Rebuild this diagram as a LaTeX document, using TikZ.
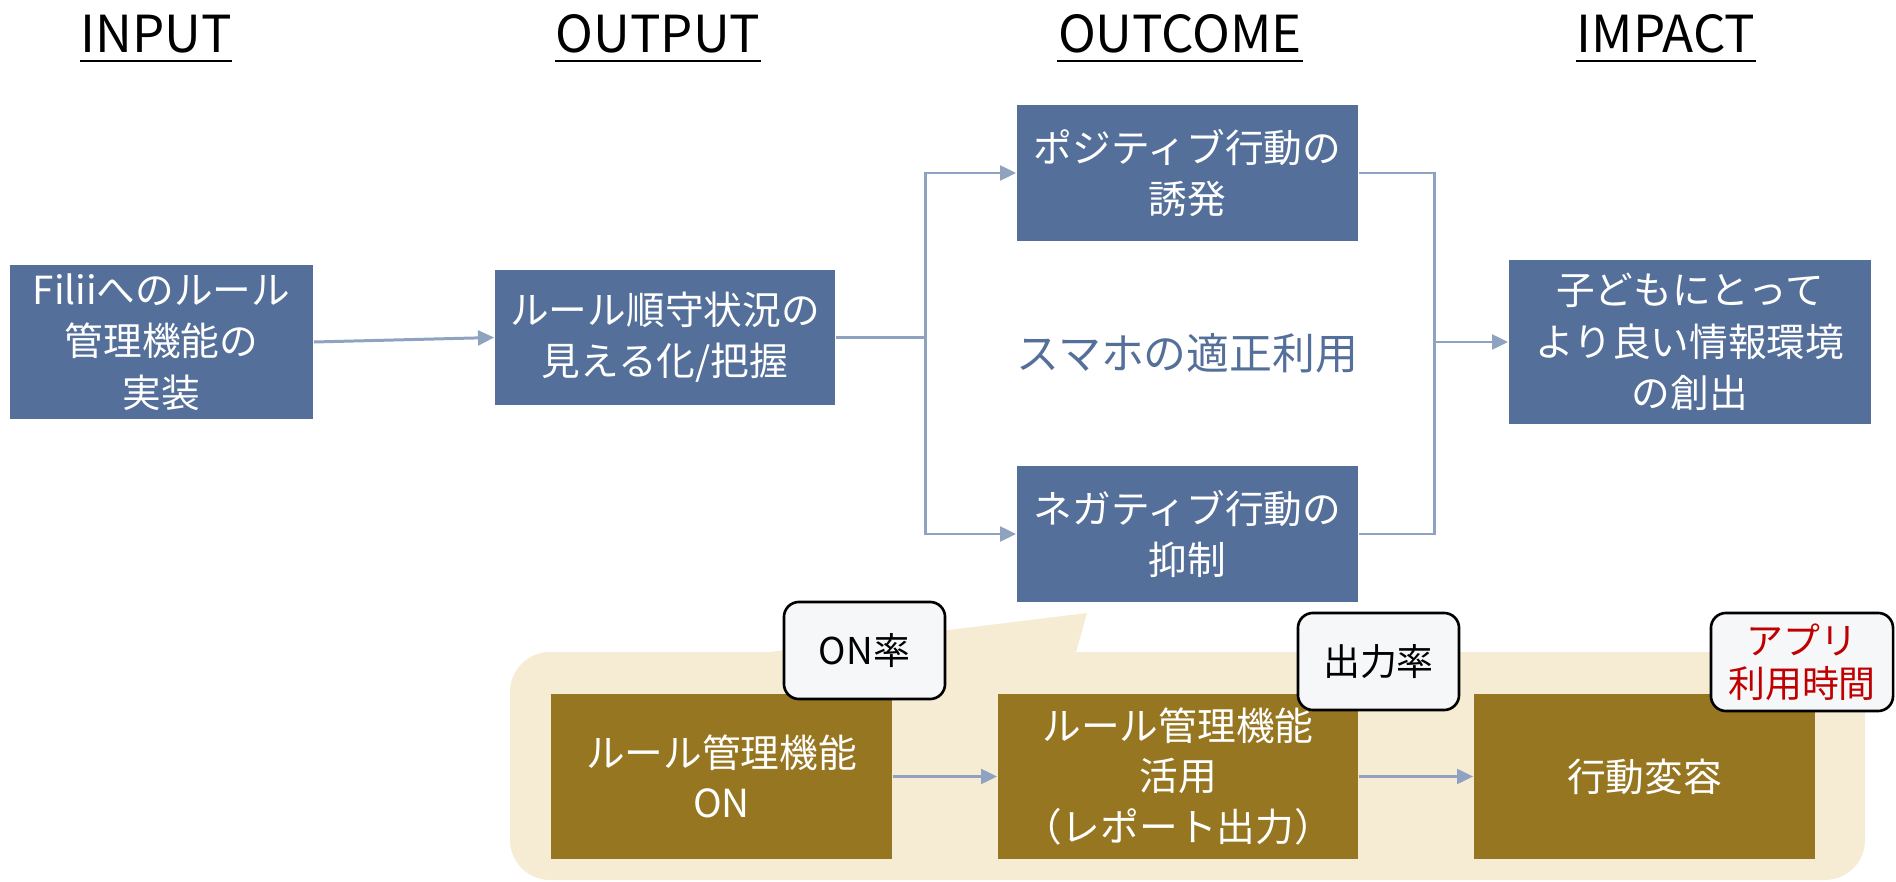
\documentclass[tikz,border=0pt]{standalone}
\usepackage{fontspec}
\setmainfont{Noto Sans CJK JP}
\usetikzlibrary{arrows.meta}
\definecolor{boxblue}{HTML}{546F99}
\definecolor{arrowc}{HTML}{8FA3C0}
\definecolor{beigec}{HTML}{F5ECD3}
\definecolor{brownc}{HTML}{977621}
\definecolor{labelc}{HTML}{F6F7F9}
\definecolor{redc}{HTML}{C00000}
\begin{document}
\begin{tikzpicture}[x=0.01cm,y=-0.01cm,
  bluebox/.style={fill=boxblue,text=white,inner sep=0pt,align=center,font=\fontsize{11}{14.6}\selectfont},
  brownbox/.style={fill=brownc,text=white,inner sep=0pt,align=center,font=\fontsize{11}{14.3}\selectfont},
  lbl/.style={fill=labelc,draw=black,line width=0.75pt,rounded corners=0.15cm,inner sep=0pt,align=center,font=\fontsize{10.5}{12.3}\selectfont},
  hdr/.style={inner sep=0pt,anchor=base,font=\fontsize{14.5}{16}\selectfont},
  uline/.style={line width=0.85pt},
  conn/.style={draw=arrowc,line width=0.85pt,-{Triangle[length=4.6pt,width=4.2pt]}},
  plain/.style={draw=arrowc,line width=0.85pt}]
\useasboundingbox (0,0) rectangle (1896,882);

% headers
\node[hdr] (h1) at (156,53) {INPUT};
\node[hdr] (h2) at (658,53) {OUTPUT};
\node[hdr] (h3) at (1180,53) {OUTCOME};
\node[hdr] (h4) at (1666,53) {IMPACT};
\foreach \h in {h1,h2,h3,h4}
  \draw[uline] ([yshift=-0.08cm]\h.base west) -- ([yshift=-0.08cm]\h.base east);

% main boxes
\node[bluebox,minimum width=3.03cm,minimum height=1.54cm] (in) at (161.5,342) {Filiiへのルール\\管理機能の\\実装};
\node[bluebox,minimum width=3.40cm,minimum height=1.35cm] (out) at (665,337.5) {ルール順守状況の\\見える化/把握};
\node[bluebox,minimum width=3.41cm,minimum height=1.36cm] (pos) at (1187.5,173) {ポジティブ行動の\\誘発};
\node[bluebox,minimum width=3.41cm,minimum height=1.36cm] (neg) at (1187.5,534) {ネガティブ行動の\\抑制};
\node[bluebox,minimum width=3.62cm,minimum height=1.64cm] (imp) at (1690,342) {子どもにとって\\より良い情報環境\\の創出};
\node[inner sep=0pt,text=boxblue,font=\fontsize{12.2}{14}\selectfont] (mid) at (1187.5,353) {スマホの適正利用};

% connectors
\draw[conn] (in.east) -- (out.west);
\coordinate (j1) at (925,337.5);
\coordinate (j2) at (1434,342);
\draw[plain] (out.east) -- (j1);
\draw[conn] (j1) |- (pos.west);
\draw[conn] (j1) |- (neg.west);
\draw[plain] (pos.east) -| (j2);
\draw[plain] (neg.east) -| (j2);
\draw[conn] (j2) -- (imp.west);

% callout
\fill[beigec,rounded corners=0.4cm] (510,652) rectangle (1865,880);
\fill[beigec] (737,656) -- (1087,613) -- (1075,656) -- cycle;

% brown boxes
\node[brownbox,minimum width=3.41cm,minimum height=1.65cm] (b1) at (721.5,776.5) {ルール管理機能\\ON};
\node[brownbox,minimum width=3.60cm,minimum height=1.65cm] (b2) at (1178,776.5) {ルール管理機能\\活用\\（レポート出力）};
\node[brownbox,minimum width=3.41cm,minimum height=1.65cm] (b3) at (1644.5,776.5) {行動変容};
\draw[conn] (b1.east) -- (b2.west);
\draw[conn] (b2.east) -- (b3.west);

% labels
\node[lbl,minimum width=1.61cm,minimum height=0.97cm] (l1) at (864.5,650.5) {ON率};
\node[lbl,minimum width=1.61cm,minimum height=0.97cm] (l2) at (1378.5,661.5) {出力率};
\node[lbl,minimum width=1.82cm,minimum height=0.98cm,text=redc] (l3) at (1802,662) {アプリ\\利用時間};
\end{tikzpicture}
\end{document}
